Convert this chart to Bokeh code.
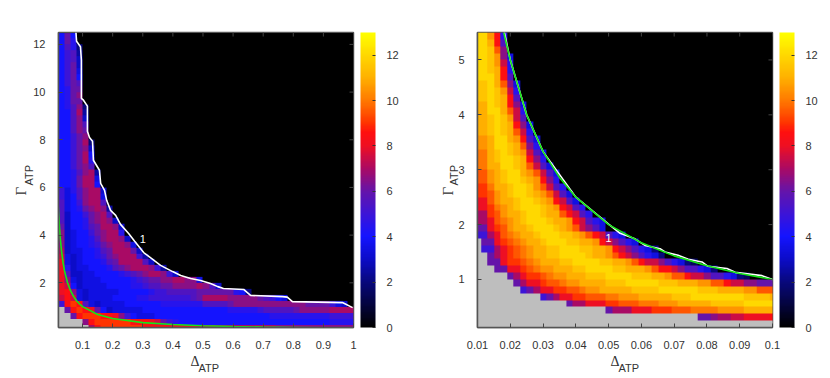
import numpy as np
from bokeh.plotting import figure
from bokeh.layouts import row
from bokeh.embed import file_html
from bokeh.resources import INLINE
from bokeh.core.properties import value
from bokeh.models import (ColorBar, FixedTicker, Label, LinearColorMapper, Range1d)

# Heat values, top row first. Each character is base-36 for twice the value; "." has no value (grey).
LEFT_ROWS = [
    "8c8", "8c9", "8b94", "8ab5", "8ab6", "8ac6", "8ac7", "8ac8", "8acb", "89cc",
    "89cd", "89cc", "89bd4", "88be5", "88bd6", "88bdb", "88bdc", "88acd", "88ace4", "88acd6",
    "88ace8", "88ace9", "88acdb", "889bde5", "889cee7", "889cee8", "a79bdee6", "a78bdee7", "b78adeeb", "b789cded5",
    "b688acdeb", "b6889cded6", "c6889bceed6", "d6788acdee9", "d67889bdeed6", "d67889acdeed7", "e677889bceeec6",
    "f767889acdeeea5", "g7678889bceeeeb6", "g96778889bcdeeeda5",
    "gb66778888" + "9abcdeeda6",
    "gd76777888" + "889abccdde" + "edd7",
    "gf86777788" + "8899abbccd" + "dddedb6",
    "ghd7677777" + "888889aabb" + "bbbcccccc9" + "84",
    "fhf7677778" + "88899aaaaa" + "aabceeeedd" + "dddcba87",
    "ahihb76777" + "7888888999" + "9999bbbbcd" + "dddddddddd" + "dcccca76",
    ".chihgc867" + "7777888888" + "8888888899" + "999abbbbbc" + "dddddeeee",
    "..chiiihhg" + "da87778888" + "8888888888" + "8888899999" + "99999aaaa",
    "....dhiiii" + "iihhhgfca9" + "8888888888" + "8888888888" + "888889999",
    ".....ehiii" + "iiiihhhhgg" + "gggfffeeee" + "eeeeeedddd" + "ddddddddd",
]
RIGHT_ROWS = [
    "oolh9", "oomhb", "oonjd", "oonld7", "oonlf9", "oonmh9", "ooomhb", "nnomjd7", "nnonlf9", "nnonmhb",
    "mmonmhd7", "mmoomjf9", "mmnonlfb", "mmnonmhd7", "mmnonmjf9", "llmoomlhb7", "llmoonmjd9", "kkmnonmlfb7",
    "kkmnoonmhd9", "kkmmoonmjfb7", "jjlmnoomljfb7", "jjlmnoonmlhd9", "iikmmnoonljfb9", "iijlmnoonmljfb7",
    "ggjlmmnoonmlhfb7", "ggiklmnooonmlhfb9", "eeijlmmnoonmmjhfb9", "eegjklmnooonmmlhfb97",
    "ccgijlmmnooonmljfdb7", "aaegjklmmnooonnmljhfb97",
    ".ccgijklmmnooonnmmlhfdb97",
    ".aaegijklmmnnooonnmmlhfdb974",
    "..cegijklmmnnoooonmmljhfdb974",
    "..ccgiijklmmmnn" + "oooonnmml" + "jhffdb9743",
    "...ccggijkllmmmnnoooo" + "nnmmml" + "jhhfdbb974",
    "....." + "cegiijkllmmmnnnoooo" + "nnnmmljjhffdbb9743",
    "......" + "ceggijjkllmmmmnnnooooo" + "nnnmmmlljjhffddccc",
    "......." + "aceggiijjkllmmmmmnnnnoooooo" + "nnnmmmmlljjj",
    ".........." + "aceggiijjj" + "kklllmmmmm" + "nnnoo" + "ooooo" + "onnnn" + "m",
    ".............." + "ceeggg" + "iijjj" + "kkklll" + "mm" + "mmm" + "nnnnn" + "ooooo",
    "...................." + "ceeeggg" + "iiijjj" + "kkkkllll" + "mmmmm",
    ".................................." + "ccdeeffggggh",
    "." * 46,
]

# Contour lines (delta, gamma)
GREEN_DELTA = [0.018, 0.02, 0.025, 0.03, 0.035, 0.04, 0.05, 0.06, 0.07, 0.08, 0.09, 0.1, 0.15, 0.2, 0.3, 0.4, 0.5, 0.6, 0.7, 0.8, 0.9, 1.0]
GREEN_GAMMA = [5.5, 5.0, 4.0, 3.33, 2.86, 2.5, 2.0, 1.67, 1.43, 1.25, 1.11, 1.0, 0.67, 0.5, 0.33, 0.25, 0.2, 0.167, 0.143, 0.125, 0.111, 0.1]
WHITE_L_DELTA = [0.078, 0.080, 0.093, 0.096, 0.096, 0.103, 0.116, 0.116, 0.123, 0.133, 0.136, 0.146, 0.156, 0.160, 0.173, 0.180, 0.193, 0.210, 0.226, 0.253, 0.273, 0.303, 0.333, 0.359, 0.399, 0.426, 0.459, 0.492, 0.525, 0.549, 0.568, 0.635, 0.658, 0.764, 0.780, 0.797, 0.963, 0.997]
WHITE_L_GAMMA = [12.5, 12.13, 11.9, 11.34, 9.74, 9.66, 9.41, 8.36, 8.1, 7.94, 7.14, 6.93, 6.72, 6.17, 5.88, 5.46, 5.04, 4.83, 4.45, 4.07, 3.74, 3.27, 2.98, 2.73, 2.47, 2.31, 2.18, 2.10, 1.97, 1.84, 1.76, 1.72, 1.47, 1.42, 1.40, 1.21, 1.17, 0.96]
WHITE_R_DELTA = [0.0182, 0.02, 0.025, 0.03, 0.04, 0.05, 0.0535, 0.058, 0.0611, 0.0657, 0.0672, 0.0712, 0.0743, 0.0785, 0.0803, 0.0861, 0.0886, 0.0968, 0.1]
WHITE_R_GAMMA = [5.5, 5.0, 4.0, 3.33, 2.5, 2.01, 1.84, 1.74, 1.62, 1.56, 1.50, 1.44, 1.37, 1.32, 1.24, 1.20, 1.13, 1.07, 1.0]

LEFT_XTICKS = [0.1, 0.2, 0.3, 0.4, 0.5, 0.6, 0.7, 0.8, 0.9, 1]
LEFT_YTICKS = [2, 4, 6, 8, 10, 12]
RIGHT_XTICKS = [0.01, 0.02, 0.03, 0.04, 0.05, 0.06, 0.07, 0.08, 0.09, 0.1]
RIGHT_YTICKS = [1, 2, 3, 4, 5]
BAR_TICKS = [0, 2, 4, 6, 8, 10, 12]
CONTOUR_LEVEL = ["1"]
LEFT_LEVEL_AT = (0.3, 3.85)
RIGHT_LEVEL_AT = (0.05, 1.75)

# Colour scale
STOP_AT = [0, 2, 3, 4, 5, 6, 7, 8, 8.6, 9, 10, 11, 12, 13]
STOP_RGB = [(0, 0, 0), (8, 8, 125), (12, 12, 200), (20, 20, 255), (60, 20, 215), (100, 20, 170), (170, 10, 100),
            (238, 15, 35), (255, 15, 15), (255, 50, 0), (255, 120, 0), (255, 175, 0), (255, 215, 0), (255, 255, 0)]
pos = np.linspace(0, 13, 256)
palette = ["#%02x%02x%02x" % tuple(int(round(np.interp(t, STOP_AT, [c[i] for c in STOP_RGB]))) for i in range(3)) for t in pos]


def decode(rows, ncols):
    out = []
    for s in rows:
        s = s.ljust(ncols, "0")[:ncols]
        out.append([float("nan") if ch == "." else int(ch, 36) / 2 for ch in s])
    return np.array(out[::-1], dtype=float)


TXT = "#333333"
FONT = "Liberation Sans"
SERIF = "Liberation Serif"


def panel(rows, ncols, img, xr, yr, xticks, yticks, xfmt, border_left, white, level_at, gx, dl):
    mapper = LinearColorMapper(palette=palette, low=0, high=13, nan_color="#bebebe")
    p = figure(frame_width=295, frame_height=295, x_range=Range1d(*xr), y_range=Range1d(*yr),
               output_backend="svg", toolbar_location=None, min_border_left=border_left, min_border_top=32,
               min_border_bottom=50, min_border_right=0, background_fill_color="black",
               outline_line_color="#555555", outline_line_width=1.5)
    p.grid.visible = False
    p.image(image=[decode(rows, ncols)], x=img[0], y=img[1], dw=img[2], dh=img[3], color_mapper=mapper)
    p.line(white[0], white[1], line_color="white", line_width=1.6)
    p.line(GREEN_DELTA, GREEN_GAMMA, line_color="#16e616", line_width=1.6)
    p.text([level_at[0]], [level_at[1]], text=CONTOUR_LEVEL, text_color="white", text_font=value(FONT),
           text_font_size="11px", text_align="center", text_baseline="middle")
    # mirrored tick marks along the top and right edges
    p.scatter(xticks, [yr[1]] * len(xticks), marker="dash", angle=90, angle_units="deg", size=8,
              line_color="#444444", fill_color=None)
    p.scatter([xr[1]] * len(yticks), yticks, marker="dash", size=8, line_color="#444444", fill_color=None)
    for ax, ticks in ((p.xaxis[0], xticks), (p.yaxis[0], yticks)):
        ax.ticker = FixedTicker(ticks=ticks)
        ax.major_tick_in = 4
        ax.major_tick_out = 0
        ax.minor_tick_in = 0
        ax.minor_tick_out = 0
        ax.major_tick_line_color = "#444444"
        ax.axis_line_color = "#555555"
        ax.axis_line_width = 1.5
        ax.major_label_text_font = FONT
        ax.major_label_text_font_size = "11px"
        ax.major_label_text_color = TXT
    p.xaxis[0].major_label_standoff = 13
    p.yaxis[0].major_label_standoff = 13
    p.xaxis[0].major_label_overrides = xfmt
    cb = ColorBar(color_mapper=mapper, ticker=FixedTicker(ticks=BAR_TICKS), width=15, height=295, padding=0, margin=0,
                  major_tick_in=3, major_tick_line_color="#333333", minor_tick_line_color=None,
                  major_label_text_font=FONT, major_label_text_font_size="11px", major_label_text_color=TXT,
                  label_standoff=11, bar_line_color=None, border_line_color=None, background_fill_color=None,
                  location=(7, 0))
    p.add_layout(cb, "right")
    # axis titles, each label sits in its own side panel
    lab = dict(x_units="screen", y_units="screen", text_color=TXT, level="overlay")
    p.add_layout(Label(x=gx[0], y=132, text="\u0393", angle=90, angle_units="deg", text_font=SERIF, text_font_size="15px",
                       text_align="left", text_baseline="middle", **lab), "left")
    p.add_layout(Label(x=gx[1], y=142, text="ATP", angle=90, angle_units="deg", text_font=FONT, text_font_size="11px",
                       text_align="left", text_baseline="middle", **lab), "left")
    p.add_layout(Label(x=dl, y=5, text="\u0394", text_font=SERIF, text_font_size="14px",
                       text_align="left", text_baseline="middle", **lab), "below")
    p.add_layout(Label(x=dl + 8, y=11, text="ATP", text_font=FONT, text_font_size="11px",
                       text_align="left", text_baseline="middle", **lab), "below")
    return p


left = panel(LEFT_ROWS, 49, (0.02, -0.025, 0.98, 12.5), (0.02, 1.0), (0.125, 12.5), LEFT_XTICKS, LEFT_YTICKS,
             {1: "1"}, 58, (WHITE_L_DELTA, WHITE_L_GAMMA), LEFT_LEVEL_AT, (6, 26), 132)
right = panel(RIGHT_ROWS, 46, (0.009, 0.125, 0.092, 5.375), (0.01, 0.1), (0.125, 5.5), RIGHT_XTICKS, RIGHT_YTICKS,
              {0.01: "0.01", 0.02: "0.02", 0.03: "0.03", 0.04: "0.04", 0.05: "0.05", 0.06: "0.06", 0.07: "0.07",
               0.08: "0.08", 0.09: "0.09", 0.1: "0.1"}, 76, (WHITE_R_DELTA, WHITE_R_GAMMA), RIGHT_LEVEL_AT, (8, 26), 133)

page = row(left, right)
open("out.html", "w").write(file_html(page, INLINE))
